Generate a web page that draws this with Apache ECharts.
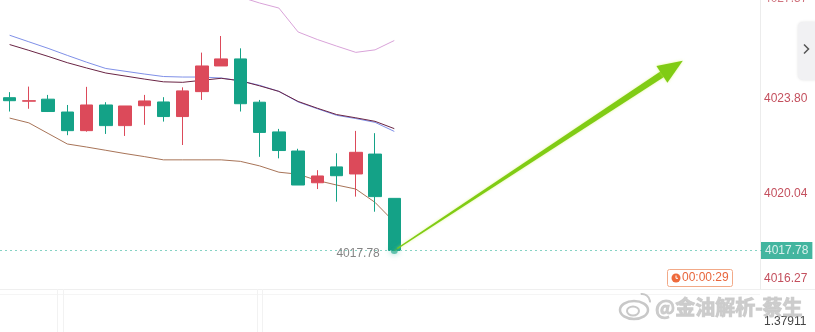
<!DOCTYPE html>
<html>
<head>
<meta charset="utf-8">
<script src="https://cdn.jsdelivr.net/npm/echarts@6/dist/echarts.min.js"></script>
<style>
html,body{margin:0;padding:0;background:#fff;}
#chart{width:815px;height:332px;}
</style>
</head>
<body>
<div id="chart"></div>
<script>
// ---- data ----
const categories = ['01','02','03','04','05','06','07','08','09','10','11','12','13','14','15','16','17','18','19','20',
  '21','22','23','24','25','26','27','28','29','30','31','32','33','34','35','36','37','38','39','40'];
const candleOpen  = [4023.85,4023.71,4023.79,4023.28,4022.54,4023.56,4022.74,4023.53,4023.68,4023.10,4024.09,4025.11,4025.39,4023.67,4022.49,4021.73,4020.47,4021.10,4020.82,4021.61,4019.85];
const candleClose = [4023.73,4023.73,4023.30,4022.54,4023.56,4022.74,4023.52,4023.72,4023.10,4024.12,4025.11,4025.39,4023.61,4022.47,4021.75,4020.38,4020.74,4020.75,4021.68,4019.92,4017.78];
const candleLow   = [4023.30,4023.41,4023.28,4022.36,4022.50,4022.41,4022.33,4022.77,4022.90,4021.97,4023.76,4025.11,4023.30,4021.50,4021.44,4020.38,4020.22,4019.72,4019.92,4019.32,4017.78];
const candleHigh  = [4024.07,4024.29,4023.96,4023.56,4024.28,4023.67,4023.52,4023.96,4023.87,4024.26,4025.64,4026.30,4025.81,4023.76,4022.61,4021.82,4020.97,4021.64,4022.53,4022.44,4019.85];
const bandUpper = [null,null,null,null,null,null,null,null,null,null,4028.33,4028.13,4027.85,4027.61,4027.41,4026.46,4026.16,4025.90,4025.65,4025.75,4026.12];
const maBlue    = [4026.33,4026.07,4025.81,4025.53,4025.26,4025.01,4024.90,4024.79,4024.69,4024.67,4024.67,4024.63,4024.52,4024.34,4024.10,4023.68,4023.41,4023.15,4023.02,4022.87,4022.51];
const maDark    = [4025.96,4025.73,4025.49,4025.24,4025.03,4024.83,4024.71,4024.59,4024.48,4024.46,4024.54,4024.62,4024.52,4024.32,4024.10,4023.70,4023.43,4023.18,4023.05,4022.91,4022.62];
const bandLower = [4023.04,4022.85,4022.43,4022.01,4021.89,4021.76,4021.63,4021.51,4021.38,4021.38,4021.38,4021.38,4021.32,4021.14,4020.89,4020.81,4020.56,4020.38,4020.22,4019.69,4018.91];
const yTickLabels = [4016.27, 4020.04, 4023.80, 4027.57];
const lastPrice = 4017.78;
const arrowFrom = [20, 4017.78];
const arrowTo = [35, 4025.32];
const countdownText = '00:00:29';
const subPanelValue = '1.37911';
const watermarkText = '@金油解析-蔡生';

// ---- chart ----
const candleData = candleOpen.map((o, i) => [o, candleClose[i], candleLow[i], candleHigh[i]]);
const Y_MIN = 4016.25, Y_MAX = 4027.73;
const UP = '#dc4a5a', DOWN = '#14a287';
const NUM_FONT = '"Liberation Sans", Arial, sans-serif';
const AXIS_RED = '#c4505e';
const axisTicksShown = yTickLabels.slice(0, yTickLabels.length - 1);
const topTick = yTickLabels[yTickLabels.length - 1];

const chart = echarts.init(document.getElementById('chart'), null, {renderer: 'canvas'});

function lineSeries(name, data, color) {
  return {
    name, type: 'line', data, xAxisIndex: 0, yAxisIndex: 0,
    symbol: 'none', smooth: false, clip: true, silent: true,
    lineStyle: {color, width: 1}, z: 3
  };
}

const option = {
  animation: false,
  backgroundColor: '#ffffff',
  grid: [
    {left: -3.66, top: 0, width: 773, height: 289},
    {left: 760, top: 0, right: 0, height: 289},
  ],
  xAxis: [
    {type: 'category', gridIndex: 0, data: categories, boundaryGap: true, show: false},
    {type: 'value', gridIndex: 1, min: 0, max: 1, show: false}
  ],
  yAxis: [
    {type: 'value', gridIndex: 0, min: Y_MIN, max: Y_MAX, show: false},
    {type: 'value', gridIndex: 1, min: Y_MIN, max: Y_MAX, position: 'left',
      axisLine: {show: true, lineStyle: {color: '#ececec'}},
      axisTick: {show: false}, splitLine: {show: false},
      axisLabel: {
        inside: true, margin: 4, color: AXIS_RED, fontSize: 12, fontFamily: NUM_FONT,
        customValues: axisTicksShown,
        formatter: function (v) {
          const idx = yTickLabels.findIndex(t => Math.abs(t - v) < 1e-6);
          const s = Number(v).toFixed(2);
          if (idx === 0) return '{lo|' + s + '}';
          return s;
        },
        rich: {
          lo: {padding: [0, 0, 19, 0], color: AXIS_RED, fontSize: 12, fontFamily: NUM_FONT}
        }
      }
    }
  ],
  series: [
    lineSeries('upper', bandUpper, '#d9a3d9'),
    lineSeries('lower', bandLower, '#a87458'),
    lineSeries('ma1', maBlue, '#7f90e8'),
    lineSeries('ma2', maDark, '#6a2444'),
    {
      name: 'k', type: 'candlestick', data: candleData, xAxisIndex: 0, yAxisIndex: 0,
      barWidth: 13, z: 4, silent: true,
      itemStyle: {color: UP, color0: DOWN, borderColor: UP, borderColor0: DOWN, borderWidth: 1},
      markLine: {
        silent: true, symbol: 'none', animation: false,
        lineStyle: {type: [2, 3], color: '#86d2c4', width: 1},
        label: {show: false},
        data: [{yAxis: lastPrice}]
      }
    },
    {
      name: 'arrow', type: 'custom', xAxisIndex: 0, yAxisIndex: 0, silent: true, z: 6,
      data: [[arrowFrom[0], arrowFrom[1], arrowTo[0], arrowTo[1]]],
      encode: {x: 0, y: 1},
      renderItem: function (params, api) {
        const p0 = api.coord([api.value(0), api.value(1)]);
        const p1 = api.coord([api.value(2), api.value(3)]);
        const dx = p1[0] - p0[0], dy = p1[1] - p0[1];
        const L = Math.hypot(dx, dy);
        const ux = dx / L, uy = dy / L, nx = -uy, ny = ux;
        const headLen = 25, headHalf = 10, s0 = 0.6, s1 = 3.4;
        const bx = p1[0] - ux * headLen, by = p1[1] - uy * headLen;
        const ex = bx + ux * 3, ey = by + uy * 3;
        const fill = '#80cc14';
        return {
          type: 'group',
          children: [
            {type: 'polygon', shape: {points: [
              [p0[0] + nx * s0, p0[1] + ny * s0], [ex + nx * s1, ey + ny * s1],
              [ex - nx * s1, ey - ny * s1], [p0[0] - nx * s0, p0[1] - ny * s0]]},
              style: {fill, shadowBlur: 3, shadowColor: 'rgba(210,240,90,0.6)'}},
            {type: 'polygon', shape: {points: [
              [p1[0], p1[1]], [bx + nx * headHalf, by + ny * headHalf], [bx - nx * headHalf, by - ny * headHalf]]},
              style: {fill, shadowBlur: 3, shadowColor: 'rgba(210,240,90,0.6)'}}
          ]
        };
      }
    },
    {
      name: 'last', type: 'scatter', xAxisIndex: 0, yAxisIndex: 0, silent: true, z: 7,
      data: [[arrowFrom[0], lastPrice]],
      symbol: 'circle', symbolSize: 7,
      itemStyle: {color: 'rgba(20,162,135,0.75)', shadowBlur: 6, shadowColor: 'rgba(20,162,135,0.8)'},
      label: {show: true, position: 'left', distance: 11, offset: [0, 3],
        formatter: () => lastPrice.toFixed(2), color: '#666', fontSize: 12, fontFamily: NUM_FONT}
    },
    {
      name: 'topTick', type: 'scatter', xAxisIndex: 1, yAxisIndex: 1, silent: true, z: 9,
      data: [[0, topTick]], symbolSize: 0,
      label: {show: true, position: 'right', distance: 4, offset: [0, -5],
        formatter: () => topTick.toFixed(2), color: AXIS_RED, fontSize: 12, fontFamily: NUM_FONT}
    },
    {
      name: 'priceTag', type: 'scatter', xAxisIndex: 1, yAxisIndex: 1, silent: true, z: 10,
      data: [[0, lastPrice]], symbolSize: 0,
      label: {show: true, position: 'right', distance: 1,
        formatter: () => lastPrice.toFixed(2),
        backgroundColor: '#14a287', color: '#fff', fontSize: 12, fontFamily: NUM_FONT,
        padding: [3, 4, 2, 4]}
    }
  ],
  graphic: [
    // bottom panel lines
    {type: 'line', shape: {x1: 0, y1: 289.5, x2: 815, y2: 289.5}, style: {stroke: '#efefef', lineWidth: 1}, silent: true},
    {type: 'line', shape: {x1: 0, y1: 294.5, x2: 760, y2: 294.5}, style: {stroke: '#f5f5f5', lineWidth: 1}, silent: true},
    {type: 'line', shape: {x1: 57.5, y1: 289, x2: 57.5, y2: 332}, style: {stroke: '#f2f2f2', lineWidth: 1}, silent: true},
    {type: 'line', shape: {x1: 63.5, y1: 289, x2: 63.5, y2: 332}, style: {stroke: '#f2f2f2', lineWidth: 1}, silent: true},
    {type: 'line', shape: {x1: 257.5, y1: 289, x2: 257.5, y2: 332}, style: {stroke: '#f2f2f2', lineWidth: 1}, silent: true},
    {type: 'line', shape: {x1: 262.5, y1: 289, x2: 262.5, y2: 332}, style: {stroke: '#f2f2f2', lineWidth: 1}, silent: true},
    // toggle tab
    {type: 'rect', shape: {x: 798, y: 22, width: 22, height: 58, r: 5},
      style: {fill: '#f1f1f3', shadowBlur: 3, shadowColor: 'rgba(0,0,0,0.12)'}, silent: true, z: 20},
    {type: 'polyline', shape: {points: [[804, 44.5], [808.5, 49], [804, 53.5]]},
      style: {stroke: '#555', lineWidth: 1.5, fill: null}, silent: true, z: 21},
    // countdown
    {type: 'rect', shape: {x: 667.5, y: 269.5, width: 65, height: 17, r: 2},
      style: {fill: '#fff', stroke: '#f2aa88', lineWidth: 1}, silent: true, z: 20},
    {type: 'circle', shape: {cx: 676, cy: 278, r: 4.5}, style: {fill: '#ee6a3c'}, silent: true, z: 21},
    {type: 'polyline', shape: {points: [[676, 275.5], [676, 278.3], [678, 278.3]]},
      style: {stroke: '#fff', lineWidth: 1, fill: null}, silent: true, z: 22},
    {type: 'text', x: 682, y: 278, style: {text: countdownText, fill: '#e8663c', fontSize: 12,
      fontFamily: NUM_FONT, verticalAlign: 'middle', align: 'left'}, silent: true, z: 21},
    // sub-panel value
    {type: 'text', x: 764, y: 322, style: {text: subPanelValue, fill: '#444', fontSize: 12,
      fontFamily: NUM_FONT, verticalAlign: 'middle', align: 'left'}, silent: true, z: 20},
    // watermark
    {type: 'ellipse', shape: {cx: 634, cy: 310, rx: 14, ry: 9},
      style: {fill: null, stroke: 'rgba(190,190,190,0.85)', lineWidth: 2.5}, silent: true, z: 30},
    {type: 'ellipse', shape: {cx: 633, cy: 311, rx: 6, ry: 4.5},
      style: {fill: null, stroke: 'rgba(190,190,190,0.85)', lineWidth: 2}, silent: true, z: 30},
    {type: 'arc', shape: {cx: 642, cy: 302, r: 8, startAngle: -Math.PI * 0.55, endAngle: 0.05},
      style: {fill: null, stroke: 'rgba(190,190,190,0.85)', lineWidth: 2}, silent: true, z: 30},
    {type: 'text', x: 655, y: 307, style: {text: watermarkText, fill: 'rgba(200,200,200,0.9)',
      stroke: 'rgba(150,150,150,0.45)', lineWidth: 1, fontSize: 20, fontWeight: 'bold',
      fontFamily: '"Noto Sans CJK SC", sans-serif', verticalAlign: 'middle', align: 'left'}, silent: true, z: 30}
  ]
};
chart.setOption(option);
</script>
</body>
</html>
